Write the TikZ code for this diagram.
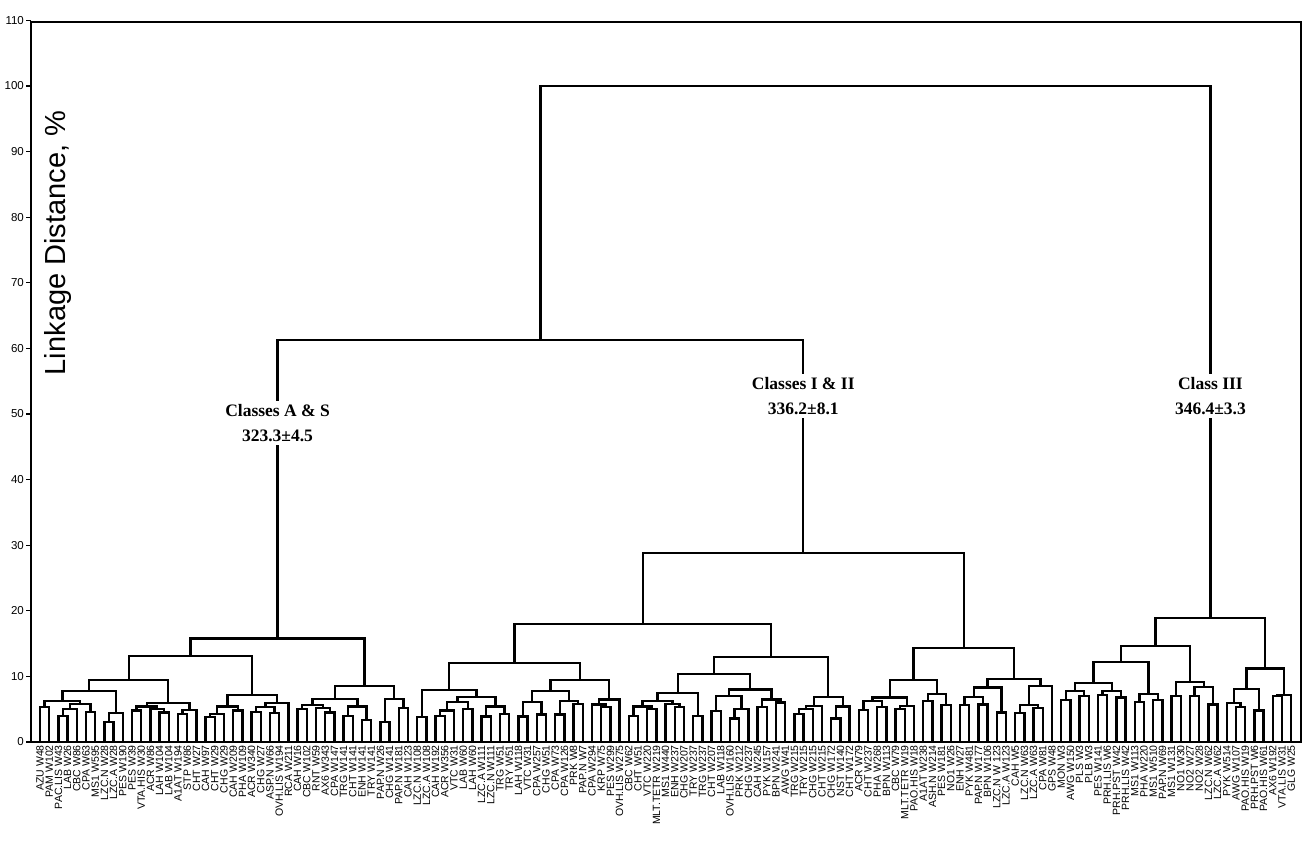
\documentclass[tikz,border=0pt]{standalone}
\usepackage{fontspec}
\setmainfont{Liberation Sans}
\newfontfamily\classfont{Liberation Serif}
\usetikzlibrary{calc}

% one merge of the tree: name, left child, right child, linkage distance (%)
\newcommand\mrg[4]{%
  \path let \p1=(#2), \p2=(#3) in coordinate (#1) at ({(\x1+\x2)/2},{(99+6.56*#4)*1pt});
  \draw[tree] (#2) |- (#1) -| (#3);
}

\begin{document}
\begin{tikzpicture}[x=1pt, y=1pt,
    tree/.style={line width=2.3pt, line join=miter},
    frame/.style={line width=1.3pt},
    leaflabel/.style={rotate=90, anchor=east, inner sep=0pt, font=\fontsize{10.5}{10.5}\selectfont},
    ticklabel/.style={left, inner sep=1.5pt, font=\fontsize{11.5}{11.5}\selectfont},
    classlabel/.style={fill=white, align=center, inner sep=3pt, font=\classfont\bfseries\fontsize{17.5}{25}\selectfont}]
  \useasboundingbox (0,0) rectangle (1306,841);

  % leaves and their labels
  \foreach \lab [count=\i] in {AZU W48, PAM W102, PAC.LIS W43, LAB W26, CBC W86, CPA W63,
      MS1 W595, LZC.N W28, LZC.A W28, PES W190, PES W39, VTA.HIS W30, ACR W86, LAH W104,
      LAB W104, A1AT W194, STP W86, CHT W27, CAH W97, CHT W29, CHG W29, CAH W209, PHA W109,
      ACR W340, CHG W27, ASP.N W66, OVH.LIS W194, RCA W211, CAH W16, CBC W102, RNT W59,
      AX6 W343, CPA W147, TRG W141, CHT W141, ENH W141, TRY W141, PAP.N W26, CHG W141,
      PAP.N W181, CAH W123, LZC.N W108, LZC.A W108, CAH W192, ACR W356, VTC W31, LAB W60,
      LAH W60, LZC.A W111, LZC.N W111, TRG W51, TRY W51, LAH W118, VTC W31, CPA W257,
      CHG W51, CPA W73, CPA W126, PRK W8, PAP.N W7, CPA W294, KRP W75, PES W299,
      OVH.LIS W275, CBC W62, CHT W51, VTC W220, MLT.TETR W219, MS1 W440, ENH W237,
      CHG W207, TRY W237, TRG W237, CHT W207, LAB W118, OVH.LIS W160, PRK W212, CHG W237,
      CAH W245, PYK W157, BPN W241, AWG W41, TRG W215, TRY W215, CHG W215, CHT W215,
      CHG W172, NST W140, CHT W172, ACR W79, CHT W237, PHA W268, BPN W113, CBC W79,
      MLT.TETR W19, PAO.HIS W18, A1AT W238, ASH.N W214, PES W181, NO1 W26, ENH W27,
      PYK W481, PAP.N W177, BPN W106, LZC.N W 123, LZC.A W123, CAH W5, LZC.N W63,
      LZC.A W63, CPA W81, GPS W48, MON W3, AWG W150, PLS W3, PLB W3, PES W141, PRH.LIS W6,
      PRH.PST W42, PRH.LIS W42, MS1 W113, PHA W220, MS1 W510, PAP.N W69, MS1 W131,
      NO1 W30, NO2 W27, NO2 W28, LZC.N W62, LZC.A W62, PYK W514, AWG W107, PAO.HIS W19,
      PRH.PST W6, PAO.HIS W61, AX6 W192, VTA.LIS W31, GLG W25} {
    \coordinate (l\i) at ({40+(\i-1)*9.2},99);
    \node[leaflabel] (t\i) at ([yshift=-3pt]l\i) {\lab};
  }

  % Classes A & S
  \mrg{a1}{l1}{l2}{5.3}
  \mrg{a2}{l3}{l4}{4.0}
  \mrg{a3}{a2}{l5}{5.0}
  \mrg{a4}{l6}{l7}{4.6}
  \mrg{a5}{a3}{a4}{5.8}
  \mrg{a6}{a1}{a5}{6.2}
  \mrg{a7}{l8}{l9}{3.1}
  \mrg{a8}{a7}{l10}{4.4}
  \mrg{a9}{a6}{a8}{7.8}
  \mrg{a10}{l11}{l12}{4.8}
  \mrg{a11}{l14}{l15}{4.5}
  \mrg{a12}{l13}{a11}{5.0}
  \mrg{a13}{a10}{a12}{5.4}
  \mrg{a14}{l16}{l17}{4.3}
  \mrg{a15}{a14}{l18}{4.9}
  \mrg{a16}{a13}{a15}{5.9}
  \mrg{a17}{a9}{a16}{9.5}
  \mrg{a18}{l19}{l20}{3.8}
  \mrg{a19}{a18}{l21}{4.3}
  \mrg{a20}{l22}{l23}{4.8}
  \mrg{a21}{a19}{a20}{5.4}
  \mrg{a22}{l24}{l25}{4.6}
  \mrg{a23}{l26}{l27}{4.4}
  \mrg{a24}{a22}{a23}{5.3}
  \mrg{a25}{a24}{l28}{5.9}
  \mrg{a26}{a21}{a25}{7.2}
  \mrg{a27}{a17}{a26}{13.1}
  \mrg{a28}{l29}{l30}{5.0}
  \mrg{a29}{l32}{l33}{4.5}
  \mrg{a30}{l31}{a29}{5.2}
  \mrg{a31}{a28}{a30}{5.6}
  \mrg{a32}{l34}{l35}{4.0}
  \mrg{a33}{l36}{l37}{3.4}
  \mrg{a34}{a32}{a33}{5.4}
  \mrg{a35}{a31}{a34}{6.6}
  \mrg{a36}{l38}{l39}{3.1}
  \mrg{a37}{l40}{l41}{5.2}
  \mrg{a38}{a36}{a37}{6.6}
  \mrg{a39}{a35}{a38}{8.5}
  \mrg{as}{a27}{a39}{15.8}

  % Classes I & II
  \mrg{b1}{l42}{l43}{3.8}
  \mrg{b2}{l44}{l45}{4.0}
  \mrg{b3}{b2}{l46}{4.8}
  \mrg{b4}{l47}{l48}{5.0}
  \mrg{b5}{b3}{b4}{6.1}
  \mrg{b6}{l49}{l50}{3.9}
  \mrg{b7}{l51}{l52}{4.3}
  \mrg{b8}{b6}{b7}{5.4}
  \mrg{b9}{b5}{b8}{6.9}
  \mrg{b10}{b1}{b9}{7.9}
  \mrg{b11}{l53}{l54}{3.9}
  \mrg{b12}{l55}{l56}{4.2}
  \mrg{b13}{b11}{b12}{6.1}
  \mrg{b14}{l57}{l58}{4.2}
  \mrg{b15}{l59}{l60}{5.8}
  \mrg{b16}{b14}{b15}{6.3}
  \mrg{b17}{b13}{b16}{7.8}
  \mrg{b18}{l62}{l63}{5.3}
  \mrg{b19}{l61}{b18}{5.7}
  \mrg{b20}{b19}{l64}{6.5}
  \mrg{b21}{b17}{b20}{9.5}
  \mrg{b22}{b10}{b21}{12.0}
  \mrg{b23}{l65}{l66}{4.0}
  \mrg{b24}{l67}{l68}{5.0}
  \mrg{b25}{b23}{b24}{5.4}
  \mrg{b26}{l70}{l71}{5.3}
  \mrg{b27}{l69}{b26}{5.8}
  \mrg{b28}{b25}{b27}{6.2}
  \mrg{b29}{l72}{l73}{4.0}
  \mrg{b30}{b28}{b29}{7.5}
  \mrg{b31}{l74}{l75}{4.7}
  \mrg{b32}{l76}{l77}{3.6}
  \mrg{b33}{b32}{l78}{5.0}
  \mrg{b34}{b31}{b33}{7.0}
  \mrg{b35}{l79}{l80}{5.3}
  \mrg{b36}{l81}{l82}{6.0}
  \mrg{b37}{b35}{b36}{6.5}
  \mrg{b38}{b34}{b37}{8.0}
  \mrg{b39}{b30}{b38}{10.4}
  \mrg{b40}{l83}{l84}{4.3}
  \mrg{b41}{b40}{l85}{5.0}
  \mrg{b42}{b41}{l86}{5.5}
  \mrg{b43}{l87}{l88}{3.6}
  \mrg{b44}{b43}{l89}{5.4}
  \mrg{b45}{b42}{b44}{6.9}
  \mrg{b46}{b39}{b45}{13.0}
  \mrg{b47}{b22}{b46}{18.0}
  \mrg{c1}{l90}{l91}{4.9}
  \mrg{c2}{l92}{l93}{5.3}
  \mrg{c3}{c1}{c2}{6.2}
  \mrg{c4}{l94}{l95}{5.0}
  \mrg{c5}{c4}{l96}{5.5}
  \mrg{c6}{c3}{c5}{6.8}
  \mrg{c7}{l97}{l98}{6.2}
  \mrg{c8}{l99}{l100}{5.6}
  \mrg{c9}{c7}{c8}{7.3}
  \mrg{c10}{c6}{c9}{9.5}
  \mrg{c11}{l101}{l102}{5.6}
  \mrg{c12}{l103}{l104}{5.7}
  \mrg{c13}{c11}{c12}{6.9}
  \mrg{c14}{l105}{l106}{4.5}
  \mrg{c15}{c13}{c14}{8.3}
  \mrg{c16}{l107}{l108}{4.4}
  \mrg{c17}{l109}{l110}{5.2}
  \mrg{c18}{c16}{c17}{5.6}
  \mrg{c19}{c18}{l111}{8.5}
  \mrg{c20}{c15}{c19}{9.6}
  \mrg{c21}{c10}{c20}{14.3}
  \mrg{bc}{b47}{c21}{28.8}

  % Class III
  \mrg{d1}{l112}{l113}{6.4}
  \mrg{d2}{l114}{l115}{7.0}
  \mrg{d3}{d1}{d2}{7.8}
  \mrg{d4}{l116}{l117}{7.2}
  \mrg{d5}{l118}{l119}{6.8}
  \mrg{d6}{d4}{d5}{7.8}
  \mrg{d7}{d3}{d6}{9.0}
  \mrg{d8}{l120}{l121}{6.1}
  \mrg{d9}{l122}{l123}{6.4}
  \mrg{d10}{d8}{d9}{7.3}
  \mrg{d11}{d7}{d10}{12.2}
  \mrg{d12}{l124}{l125}{7.0}
  \mrg{d13}{l126}{l127}{7.0}
  \mrg{d14}{l128}{l129}{5.7}
  \mrg{d15}{d13}{d14}{8.4}
  \mrg{d16}{d12}{d15}{9.1}
  \mrg{d17}{d11}{d16}{14.6}
  \mrg{d18}{l131}{l132}{5.3}
  \mrg{d19}{l130}{d18}{5.9}
  \mrg{d20}{l133}{l134}{4.8}
  \mrg{d21}{d19}{d20}{8.1}
  \mrg{d22}{l135}{l136}{7.0}
  \mrg{d23}{d22}{l137}{7.2}
  \mrg{d24}{d21}{d23}{11.2}
  \mrg{cl3}{d17}{d24}{18.9}

  % top of the tree
  \mrg{r1}{as}{bc}{61.3}
  \mrg{root}{r1}{cl3}{100}

  % class labels over the stems
  \node[classlabel] (lAS) at (as |- 0,418) {Classes A \& S\\323.3±4.5};
  \node[classlabel] (lI) at (bc |- 0,445) {Classes I \& II\\336.2±8.1};
  \node[classlabel] (lIII) at (cl3 |- 0,445) {Class III\\346.4±3.3};

  % frame and axis
  \draw[frame] (31,99) rectangle (1301,819);
  \foreach \v in {0,10,...,110}
    \draw[frame] (31,{99+6.56*\v}) -- ++(-5,0) node[ticklabel] (y\v) {\v};
  \node[rotate=90, font=\fontsize{29}{29}\selectfont] (ytitle) at (58,598) {Linkage Distance, \%};
\end{tikzpicture}
\end{document}
